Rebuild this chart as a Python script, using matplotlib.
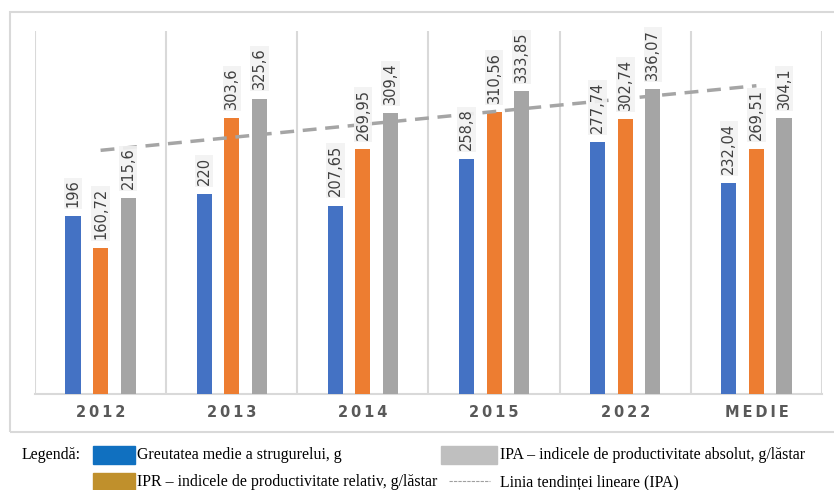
import numpy as np
import matplotlib
matplotlib.use("Agg")
import matplotlib.pyplot as plt
from matplotlib.patches import Rectangle
from matplotlib.lines import Line2D

categories = ["2012", "2013", "2014", "2015", "2022", "MEDIE"]
greutatea = [196, 220, 207.65, 258.8, 277.74, 232.04]
ipr = [160.72, 303.6, 269.95, 310.56, 302.74, 269.51]
ipa = [215.6, 325.6, 309.4, 333.85, 336.07, 304.1]

series = [greutatea, ipr, ipa]
bar_colors = ["#4472C4", "#ED7D31", "#A5A5A5"]
legend_colors = ["#1070C0", "#C0902C", "#BFBFBF"]
legend_labels = [
    "Greutatea medie a strugurelui, g",
    "IPR – indicele de productivitate relativ, g/lăstar",
    "IPA – indicele de productivitate absolut, g/lăstar",
    "Linia tendinței lineare (IPA)",
]

def fmt(v):
    s = f"{v:.2f}".rstrip("0").rstrip(".")
    return s.replace(".", ",")

fig = plt.figure(figsize=(8.34, 4.90), dpi=100)

# chart frame
fig.patches.append(Rectangle((10 / 834, 1 - 432 / 490), 830 / 834, 420 / 490,
                             transform=fig.transFigure, fill=False,
                             edgecolor="#D9D9D9", lw=1.5))

ax = fig.add_axes([35 / 834, 1 - 394 / 490, 787 / 834, 363 / 490])
x = np.arange(len(categories))
width = 0.115
offsets = [-0.21, 0.0, 0.21]
label_font = ["Liberation Sans Narrow", "DejaVu Sans"]

for vals, off, col in zip(series, offsets, bar_colors):
    ax.bar(x + off, vals, width=width, color=col, zorder=3)
    for xi, v in zip(x, vals):
        ax.text(xi + off, v + 10, fmt(v), rotation=90, ha="center", va="bottom",
                fontsize=10.5, color="#404040", family=label_font, zorder=5,
                bbox=dict(boxstyle="square,pad=0.12", facecolor="#F2F2F2",
                          edgecolor="none", alpha=0.9))

# linear trend of IPA
coef = np.polyfit(x, ipa, 1)
ax.plot(x, np.polyval(coef, x), color="#A5A5A5", lw=2.5, ls=(0, (4, 2.5)), zorder=4)

# category separators
for b in np.arange(-0.5, len(categories), 1.0):
    ax.axvline(b, color="#D9D9D9", lw=1.5, zorder=1)

ax.set_xlim(-0.5, len(categories) - 0.5)
ax.set_ylim(0, 400)
ax.set_yticks([])
ax.set_xticks(x)
ax.set_xticklabels(["\u2009".join(c) for c in categories], fontsize=10.5,
                   fontweight="bold", color="#595959")
ax.tick_params(axis="x", length=0, pad=8)
for s in ["top", "right", "left"]:
    ax.spines[s].set_visible(False)
ax.spines["bottom"].set_color("#D9D9D9")
ax.spines["bottom"].set_linewidth(1.5)

# legend
serif = "Liberation Serif"
fs = 11.4
fig.text(22 / 834, 1 - 455 / 490, "Legendă:", fontsize=fs, family=serif,
         va="center", ha="left")

def patch(x0, y0, w, h, col):
    fig.patches.append(Rectangle((x0 / 834, 1 - (y0 + h) / 490), w / 834, h / 490,
                                 transform=fig.transFigure, color=col))

patch(93, 446, 42, 18, legend_colors[0])
fig.text(137 / 834, 1 - 455 / 490, legend_labels[0], fontsize=fs, family=serif,
         va="center", ha="left")
patch(93, 473, 42, 18, legend_colors[1])
fig.text(137 / 834, 1 - 482 / 490, legend_labels[1], fontsize=fs, family=serif,
         va="center", ha="left")
patch(441, 446, 56, 18, legend_colors[2])
fig.text(500 / 834, 1 - 455 / 490, legend_labels[2], fontsize=fs, family=serif,
         va="center", ha="left")
fig.lines.append(Line2D([449 / 834, 490 / 834], [1 - 481 / 490, 1 - 481 / 490],
                        transform=fig.transFigure, color="#A0A0A0", lw=0.8,
                        ls=(0, (3, 1))))
fig.text(500 / 834, 1 - 482 / 490, legend_labels[3], fontsize=fs, family=serif,
         va="center", ha="left")

fig.savefig("out.png", dpi=100)
